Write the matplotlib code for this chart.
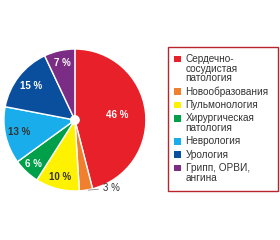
import numpy as np
import matplotlib.pyplot as plt
from matplotlib.patches import Rectangle, Circle

plt.rcParams['font.family'] = ['Liberation Sans', 'DejaVu Sans']

categories = [
    "Сердечно-\nсосудистая\nпатология",
    "Новообразования",
    "Пульмонология",
    "Хирургическая\nпатология",
    "Неврология",
    "Урология",
    "Грипп, ОРВИ,\nангина",
]
shares = [46, 3, 10, 6, 13, 15, 7]
colors = ["#E8202A", "#F07F2E", "#FFF200", "#00A04B", "#1AADEB", "#0A4E9E", "#7B2C84"]
label_colors = ["white", "#333333", "#333333", "white", "#333333", "white", "white"]
label_dist = [0.6, None, 0.83, 0.86, 0.8, 0.78, 0.83]

W, H = 280, 240
fig = plt.figure(figsize=(W / 100, H / 100), dpi=100, facecolor="white")
ax = fig.add_axes([0.014, 0.204, 0.507, 0.592])

wedges, _ = ax.pie(shares, colors=colors, startangle=90, counterclock=False,
                   wedgeprops=dict(edgecolor="white", linewidth=1.0))
ax.add_patch(Circle((0, 0), 0.06, color="white", zorder=5))
ax.set_xlim(-1, 1)
ax.set_ylim(-1, 1)
ax.set_aspect("equal")

for i, w in enumerate(wedges):
    mid = np.deg2rad((w.theta1 + w.theta2) / 2)
    txt = "%d %%" % shares[i]
    if label_dist[i] is None:
        ax.annotate(txt, xy=(np.cos(mid) + 0.03, np.sin(mid)),
                    xytext=(0.39, -0.96), fontsize=7, color="#333333",
                    va="center", ha="left",
                    arrowprops=dict(arrowstyle="-", color="#888888", lw=0.6,
                                    shrinkA=1, shrinkB=0),
                    annotation_clip=False)
    else:
        ax.text(label_dist[i] * np.cos(mid), label_dist[i] * np.sin(mid), txt,
                fontsize=7, color=label_colors[i], ha="center", va="center",
                fontweight="bold")

# legend drawn by hand so squares sit on the first line of each label
def fx(px):
    return px / W

def fy(py):
    return 1 - py / H

fig.add_artist(Rectangle((fx(167.5), fy(190.5)), fx(278) - fx(167.5), fy(46.5) - fy(190.5),
                         transform=fig.transFigure, facecolor="white",
                         edgecolor="#B8252D", linewidth=1.0))
y = 59.0
for c, lab in zip(colors, categories):
    fig.add_artist(Rectangle((fx(173.5), fy(y + 3.3)), fx(7), fy(0) - fy(6.6),
                             transform=fig.transFigure, facecolor=c, edgecolor="none"))
    lines = lab.split("\n")
    for k, line in enumerate(lines):
        fig.text(fx(185.5), fy(y), line, fontsize=7.2, color="#333333",
                 ha="left", va="center")
        if k < len(lines) - 1:
            y += 9.7
    y += 13.3

fig.savefig("out.png", dpi=100)
